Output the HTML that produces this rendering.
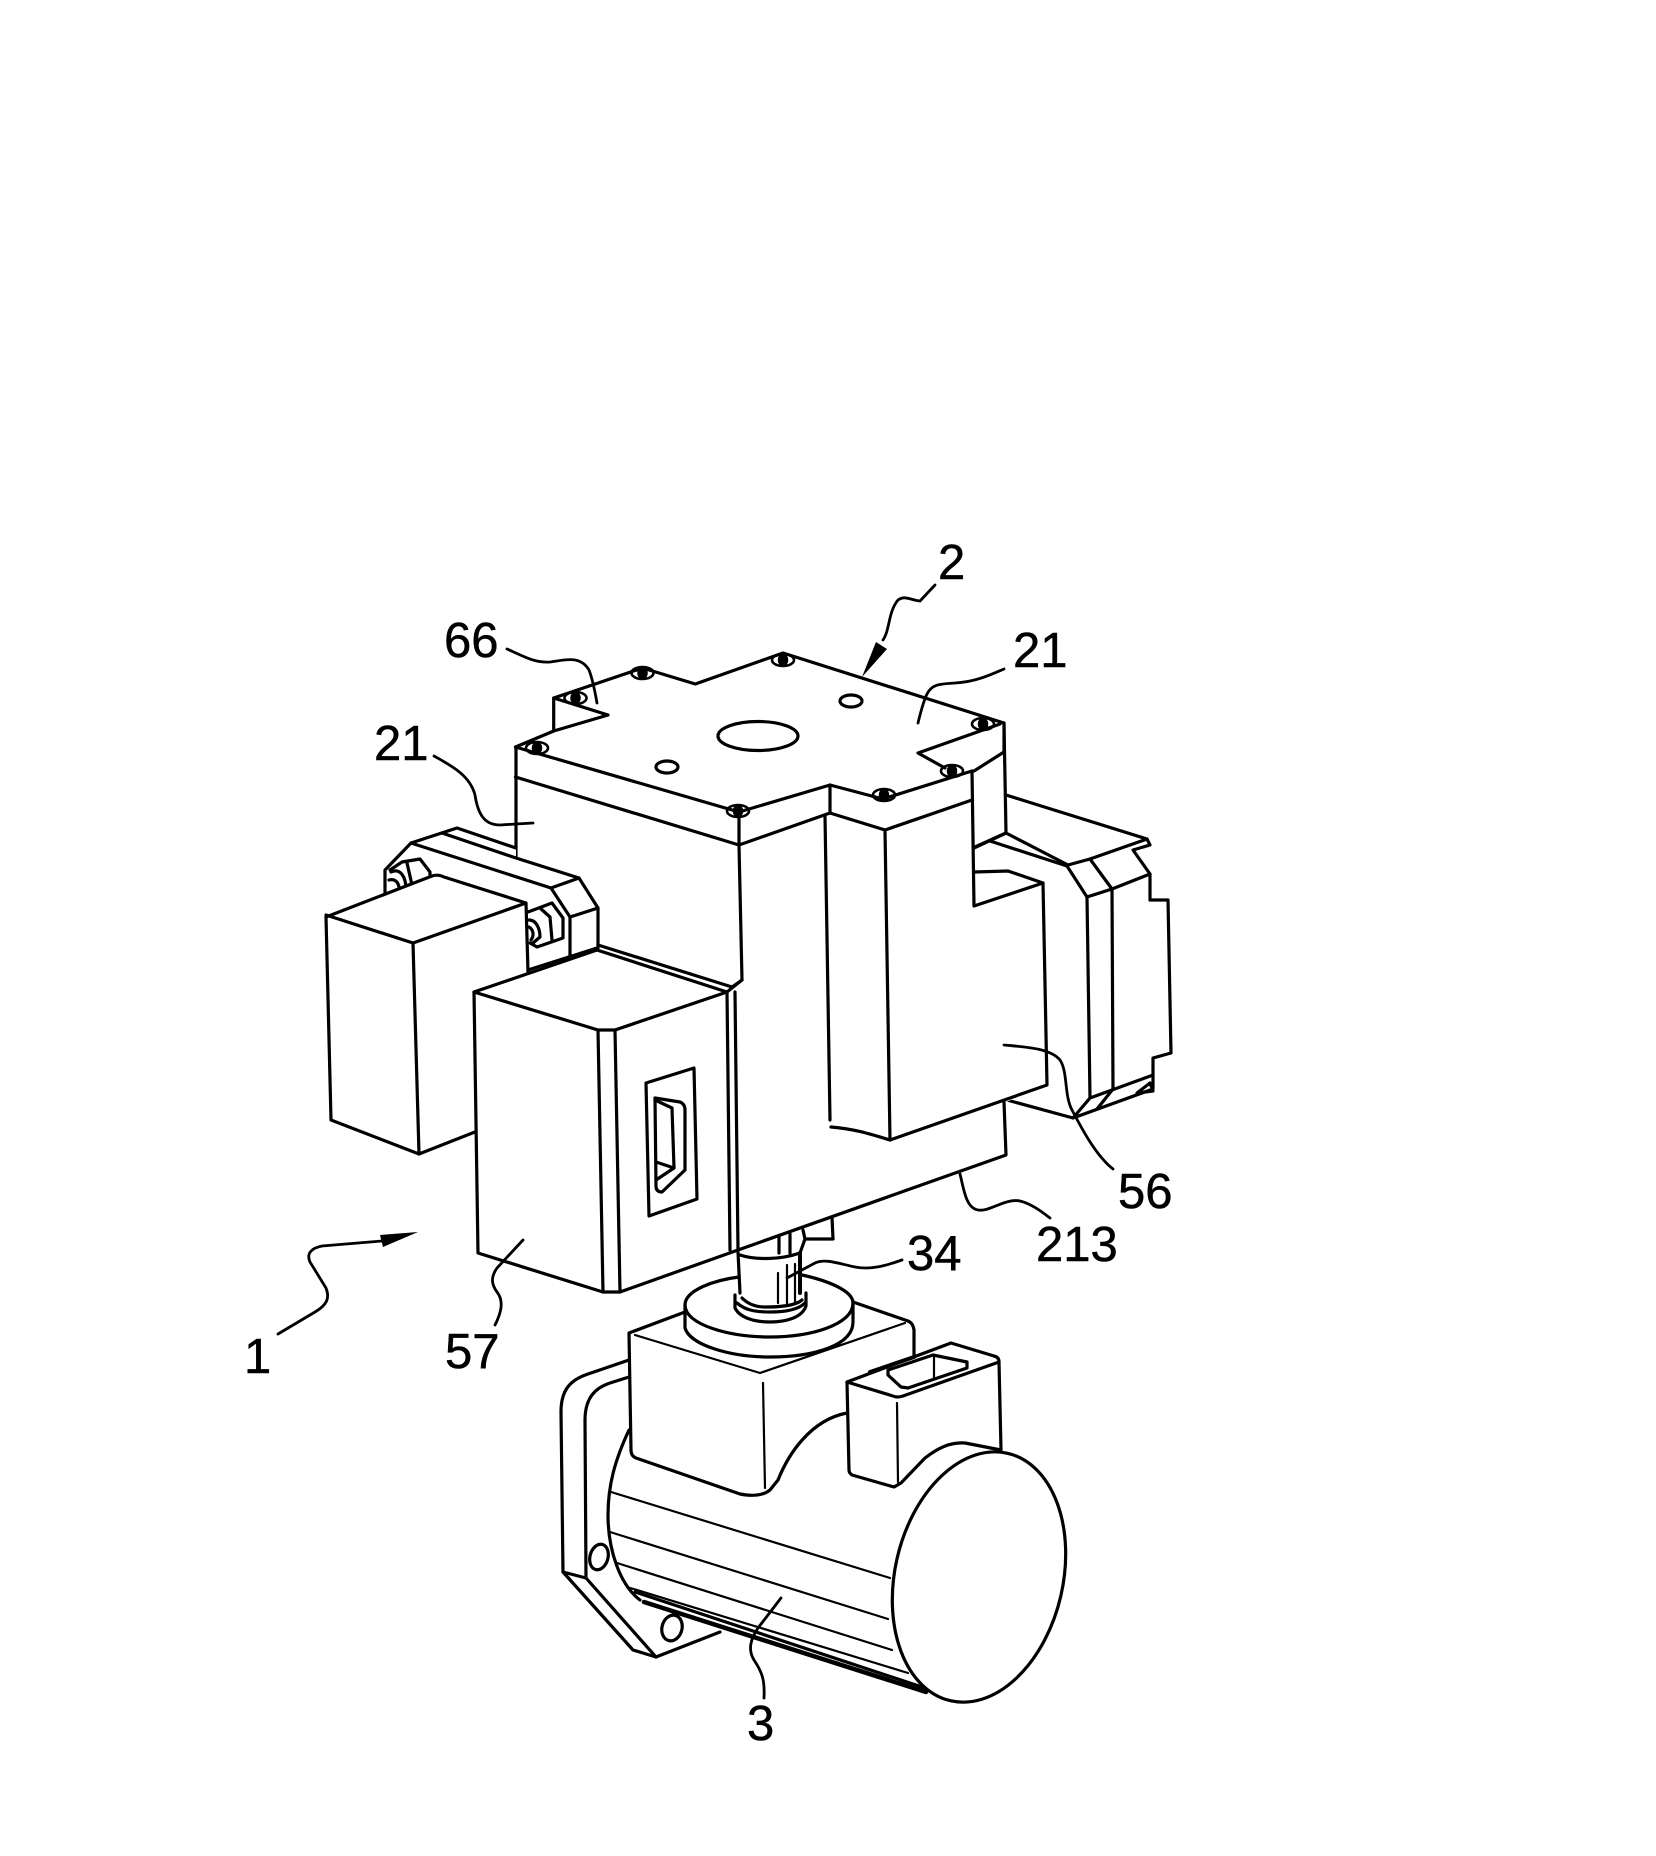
<!DOCTYPE html>
<html><head><meta charset="utf-8"><style>
html,body{margin:0;padding:0;background:#fff}
svg{display:block}
text{font-family:"Liberation Sans",sans-serif;font-size:49px;fill:#000;stroke:#000;stroke-width:.5px}
.l{stroke:#000;stroke-width:3.2;fill:none;stroke-linejoin:round;stroke-linecap:round}
.t{stroke:#000;stroke-width:2.2;fill:none;stroke-linecap:round;stroke-linejoin:round}
.k{stroke:#000;stroke-width:2.8;fill:none;stroke-linecap:round}
.s{stroke:#000;stroke-width:2.6;fill:none}
</style></head><body>
<svg width="1656" height="1856" viewBox="0 0 1656 1856" xmlns="http://www.w3.org/2000/svg">
<!-- back right motor -->
<g class="l">
<path d="M1006 795L1147 839L1150 845L1133 850L1150 874V900H1168L1171 1053L1153 1058V1075L1090 1098"/>
<path d="M1147 839L1090 859L1068 865L1006 833L975 847"/>
<path d="M990 841L1067 866L1087 897L1090 1098L1073 1118L1007 1100"/>
<path d="M1090 859L1112 889L1113 1089L1097 1109"/>
<path d="M1087 897L1112 889L1150 874"/>
<path d="M1073 1118L1153 1089L1153 1075"/>
<path d="M1137 1093L1150 1083L1153 1091Z"/>
</g>
<!-- main body -->
<path fill="#fff" d="M516 747L516 858L598 945L727 992L742 980L739 812Z"/>
<path fill="#fff" d="M825 816L739 845L742 980L727 1000L730 1250L738 1250L1006 1155V1102L1047 1085L1043 883L1008 871L974 872V800L885 830Z"/>
<!-- top plate -->
<path fill="#fff" d="M515.5 747L553.7 731V698L642.5 668L695.3 684L783 653L1004 723V752L972 771L972 800L885 830L830 813L739 845L515.5 777Z"/>
<g class="l">
<path d="M515.5 747L553.7 731V698L642.5 668L695.3 684L783 653L1004 723V752"/>
<path d="M553.7 731L608 715L553.7 698"/>
<path d="M515.5 747L739 812L830 785L883 799L972 771"/>
<path d="M515.5 777L739 845L830 813L885 830L972 800"/>
<path d="M1000 724L918 753L945 768"/>
<path d="M1004 723L1006 833"/>
<path d="M972 771L974 906L1043 883"/>
<path d="M974 872L1008 871L1043 883L1047 1085L890 1140"/>
<path d="M974 771L1004 752"/>
<path d="M974 848L1006 833"/>
<path d="M516 747V858"/>
<path d="M739 812V845L742 980L727 992"/>
<path d="M830 785V813"/>
<path d="M825 816L830 1120"/>
<path d="M885 830L890 1140"/>
<path d="M831 1127C855 1129 870 1134 890 1140"/>
<path d="M1004 1102L1006 1155L738 1250"/>
<path d="M832 1217L833 1239H805"/>
<ellipse cx="758" cy="736" rx="40" ry="14.5"/>
<ellipse cx="667" cy="767" rx="11" ry="6"/>
<ellipse cx="851" cy="701" rx="11" ry="6"/>
</g>
<!-- screws -->
<g class="s">
<ellipse cx="642.5" cy="673" rx="11" ry="6"/><ellipse cx="642.5" cy="673" rx="4" ry="5" fill="#000"/>
<ellipse cx="783" cy="660" rx="11" ry="6"/><ellipse cx="783" cy="660" rx="4" ry="5" fill="#000"/>
<ellipse cx="575.5" cy="698" rx="11" ry="6"/><ellipse cx="575.5" cy="698" rx="4" ry="5" fill="#000"/>
<ellipse cx="537" cy="748" rx="11" ry="6"/><ellipse cx="537" cy="748" rx="4" ry="5" fill="#000"/>
<ellipse cx="738" cy="811" rx="11" ry="6"/><ellipse cx="738" cy="811" rx="4" ry="5" fill="#000"/>
<ellipse cx="884" cy="795" rx="11" ry="6"/><ellipse cx="884" cy="795" rx="4" ry="5" fill="#000"/>
<ellipse cx="983" cy="724" rx="11" ry="6"/><ellipse cx="983" cy="724" rx="4" ry="5" fill="#000"/>
<ellipse cx="952" cy="771" rx="11" ry="6"/><ellipse cx="952" cy="771" rx="4" ry="5" fill="#000"/>
</g>
<!-- bracket -->
<path fill="#fff" d="M385 870L411 843L457 828L516 847V858L579 878L598 908V948L570 957L528 970V905L385 893Z"/>
<g class="l">
<path d="M385 893V870L411 843L457 828L516 848"/>
<path d="M442 833L516 858L579 878L598 908V948"/>
<path d="M411 843L551 888L579 878"/>
<path d="M551 888L570 917L598 908"/>
<path d="M570 917V957"/>
<!-- left nut -->
<path d="M390 870L402 862L420 859L430 872V878L415 884"/>
<path d="M407 863L412 885"/>
<path d="M391 872C400 868 406 876 406 890"/>
<path d="M389 880C396 878 400 884 399 892"/>
<!-- right nut -->
<path d="M528 912L552 903L563 918V938L537 947L530 943"/>
<path d="M540 908L550 917L552 940"/>
<path d="M529 920C537 920 540 930 540 937L533 943"/>
<path d="M529 927C534 930 534 936 531 940"/>
</g>
<!-- back box -->
<path fill="#fff" d="M326 917L438 875L526 903L528 970L480 1130L419 1154L331 1120Z"/>
<g class="l">
<path d="M326 917L432 876Q438 874 444 877L526 903L528 972"/>
<path d="M526 903L413 943L326 915"/>
<path d="M326 917L331 1120L419 1154L480 1130"/>
<path d="M413 943L419 1154"/>
<path d="M528 970L597 948"/>
</g>
<!-- box 57 -->
<path fill="#fff" d="M474 992L597 950L727 992L738 1250L620 1292H603L478 1253Z"/>
<g class="l">
<path d="M598 945L732 987"/>
<path d="M597 950L727 992L615 1030H598L474 992L597 950"/>
<path d="M474 992L478 1253L603 1292H620L738 1250"/>
<path d="M598 1030L603 1292"/>
<path d="M615 1030L620 1292"/>
<path d="M727 992L730 1250"/>
<path d="M732 987L742 980"/>
<path d="M735 992L738 1250"/>
<path d="M646 1083L694 1068L697 1199L649 1216Z"/>
<path d="M655 1098L680 1102Q685 1104 685 1110L685 1170L662 1192Q656 1192 656 1186L655 1098"/>
<path d="M655 1100L672 1108L674 1168L656 1180"/>
<path d="M656 1162L674 1168"/>
</g>
<!-- flange -->
<g class="l">
<path d="M629 1360L588 1374C570 1380 561 1390 561 1412L563 1572L633 1650L656 1657L720 1632"/>
<path d="M629 1377L610 1383C595 1388 585 1398 585 1420L586 1578L656 1657"/>
<path d="M563 1572L586 1578"/>
<ellipse cx="599" cy="1557" rx="9" ry="13" transform="rotate(15 599 1557)"/>
<ellipse cx="672" cy="1628" rx="10" ry="13" transform="rotate(15 672 1628)"/>
</g>
<!-- motor body -->
<path fill="#fff" d="M629 1430C615 1460 608 1485 608 1515C608 1550 620 1585 640 1600L933 1697L1000 1500L960 1440L629 1360Z"/>
<g class="l">
<path d="M629 1430C615 1460 608 1485 608 1515C608 1550 620 1585 640 1600"/>
<path d="M644 1602L926 1692" stroke-width="4.5"/>
<path d="M635 1592L925 1688"/>
</g>
<g class="t">
<path d="M611 1492L890 1578"/>
<path d="M610 1532L888 1619"/>
<path d="M617 1563L892 1650"/>
<path d="M627 1587L908 1673"/>
</g>
<!-- shaft -->
<g class="l">
<path d="M738 1252L740 1293"/>
<path d="M800 1253V1293" stroke-width="4"/>
<path d="M740 1255C755 1260 780 1260 800 1253L805 1239L803 1230"/>
<path d="M779 1237V1253M790 1234V1253"/>
</g>
<g class="t"><path d="M778 1273V1303M787 1265V1304M795 1264V1303"/></g>
<!-- disk + block -->
<path fill="#fff" d="M629 1333L685 1312L853 1302L913 1322L914 1405C880 1410 860 1410 847 1413C810 1420 788 1455 778 1480L770 1490Q760 1498 740 1494L634 1458Q631 1456 631 1450Z"/>
<g class="l">
<path d="M739 1277C715 1280 685 1290 685 1305C685 1325 730 1337 770 1337C810 1337 853 1325 853 1303C853 1290 825 1280 802 1275"/>
<path d="M685 1305V1328C690 1345 730 1357 770 1357C815 1357 853 1345 853 1322V1303"/>
<path d="M735 1295V1308C740 1318 755 1322 770 1322C785 1322 802 1318 806 1306V1293"/>
<path d="M742 1298C748 1304 755 1307 765 1307C780 1307 795 1306 802 1300"/>
<path d="M737 1303C745 1310 755 1312 770 1312C785 1312 798 1310 805 1303"/>
<path d="M685 1312L629 1333L631 1450Q631 1456 636 1458L740 1494Q760 1498 770 1490L778 1480C788 1455 810 1420 847 1413"/>
<path d="M853 1302L908 1321Q913 1323 914 1330V1357"/>
</g>
<g class="t">
<path d="M635 1335L760 1373L905 1323"/>
<path d="M763 1383L765 1488"/>
</g>
<!-- port -->
<g class="l">
<path style="fill:#fff" d="M847 1382L951 1343L994 1356Q999 1357 999 1362L1001 1450L965 1443C950 1442 938 1448 925 1458L901 1483L894 1487L852 1475Q849 1473 849 1470Z"/>
<path d="M847 1382L893 1396Q897 1398 903 1396L999 1362"/>
<path d="M888 1370L933 1355L967 1362V1368L908 1388L901 1387L888 1375Z"/>
<path d="M914 1357L870 1372" stroke-width="4"/>
</g>
<g class="t">
<path d="M934 1357V1378"/>
<path d="M897 1403L898 1482"/>
</g>
<ellipse class="l" cx="979" cy="1577" rx="84" ry="127" transform="rotate(13 979 1577)" style="fill:#fff"/>
<!-- leaders -->
<g class="k">
<path d="M507 649C525 657 535 663 550 662C565 660 580 655 589 670C593 680 595 692 597 703"/>
<path d="M434 756C450 765 470 775 475 795C478 815 485 825 500 825L533 823"/>
<path d="M935 585L920 601C910 600 905 595 898 600C888 612 890 630 883 640"/>
<path d="M1004 669C990 675 975 682 955 683C940 684 932 684 927 694C923 702 920 715 918 723"/>
<path d="M1004 1045C1025 1047 1050 1048 1060 1060C1068 1072 1064 1095 1072 1110C1080 1125 1095 1155 1113 1169"/>
<path d="M960 1174C964 1190 966 1208 978 1210C990 1212 1005 1198 1020 1201C1032 1204 1042 1212 1050 1218"/>
<path d="M902 1260C885 1266 870 1270 855 1267C840 1264 825 1258 815 1263L787 1278"/>
<path d="M523 1240L497 1268C490 1278 492 1285 497 1292C505 1302 500 1315 495 1325"/>
<path d="M781 1598L758 1628C750 1640 748 1650 754 1660C762 1672 765 1680 764 1698"/>
<path d="M278 1334L315 1312C327 1305 330 1298 326 1288L310 1262C306 1253 312 1248 322 1246L382 1241"/>
</g>
<path d="M418 1232L380 1235L383 1247Z" fill="#000"/>
<path d="M862 677L876 642L887 649Z" fill="#000"/>
<!-- labels -->
<text x="444" y="657">66</text>
<text x="374" y="760">21</text>
<text x="1013" y="667">21</text>
<text x="938" y="579">2</text>
<text x="1118" y="1208">56</text>
<text x="1036" y="1261">213</text>
<text x="907" y="1270">34</text>
<text x="445" y="1368">57</text>
<text x="747" y="1740">3</text>
<text x="244" y="1373">1</text>
</svg>
</body></html>
